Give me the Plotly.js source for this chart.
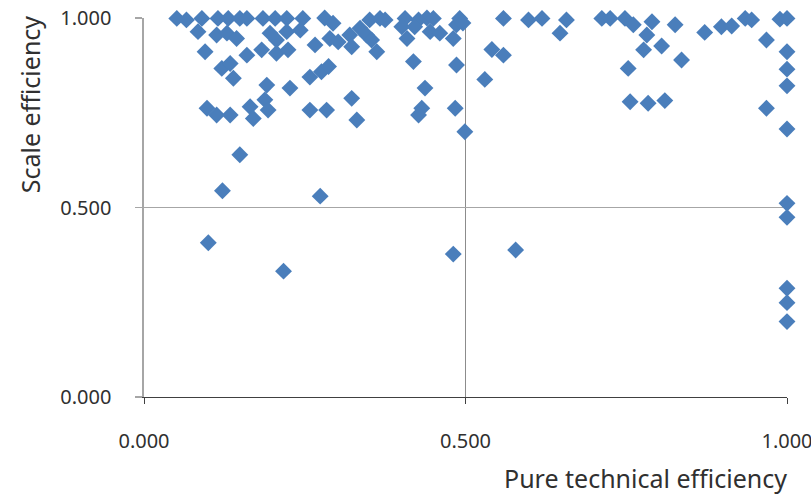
<!DOCTYPE html>
<html>
<head>
<meta charset="utf-8">
<script src="https://cdn.plot.ly/plotly-3.0.1.min.js"></script>
<style>html,body{margin:0;padding:0;background:#fff;}#chart{width:811px;height:496px;}</style>
</head>
<body>
<div id="chart"></div>
<script>
// Pure technical efficiency (x) and scale efficiency (y)
const pureTechnicalEfficiency = [
  0.051,0.066,0.090,0.115,0.131,0.149,0.160,0.185,0.204,0.222,0.247,
  0.084,0.113,0.129,0.144,0.196,0.206,0.222,0.243,
  0.095,0.160,0.183,0.206,0.224,
  0.121,0.134,0.139,0.191,0.227,0.258,
  0.098,0.113,0.134,0.165,0.170,0.188,0.193,0.258,
  0.266,0.281,0.294,0.289,0.302,0.320,0.323,0.336,0.351,0.346,0.354,0.367,0.375,0.362,
  0.406,0.401,0.409,0.427,0.440,0.450,0.421,0.445,0.460,0.481,0.491,0.486,
  0.419,0.486,0.276,0.287,0.437,0.323,0.284,0.331,0.432,0.427,0.484,0.499,0.496,
  0.559,0.598,0.619,0.657,0.647,0.712,0.725,0.748,0.761,
  0.541,0.559,0.530,0.753,0.756,
  0.790,0.826,0.782,0.805,0.777,0.836,0.872,0.898,0.914,0.935,0.945,0.989,1.000,
  0.968,1.000,1.000,1.000,0.784,0.810,0.968,1.000,
  1.000,1.000,1.000,1.000,1.000,
  0.149,0.122,0.274,0.100,0.217,0.481,0.578
];
const scaleEfficiency = [
  0.999,0.995,0.999,0.999,0.999,0.999,0.999,0.999,0.999,0.999,0.999,
  0.964,0.955,0.960,0.946,0.960,0.942,0.964,0.968,
  0.911,0.902,0.916,0.907,0.916,
  0.867,0.880,0.841,0.823,0.815,0.844,
  0.762,0.744,0.744,0.766,0.735,0.784,0.757,0.757,
  0.929,1.000,0.986,0.946,0.937,0.955,0.924,0.973,0.995,0.955,0.942,0.999,0.995,0.911,
  0.999,0.977,0.946,0.995,1.000,0.999,0.977,0.964,0.960,0.946,0.999,0.982,
  0.885,0.876,0.858,0.872,0.815,0.788,0.757,0.731,0.762,0.744,0.762,0.700,0.987,
  0.999,0.995,0.999,0.995,0.960,0.999,0.999,0.999,0.982,
  0.917,0.902,0.838,0.867,0.779,
  0.990,0.982,0.955,0.926,0.916,0.889,0.962,0.977,0.979,0.999,0.995,0.997,0.999,
  0.942,0.911,0.865,0.821,0.775,0.782,0.762,0.707,
  0.511,0.474,0.287,0.249,0.199,
  0.639,0.544,0.530,0.407,0.332,0.377,0.388
];
const tickValues = [0, 0.5, 1];
const tickLabels = ["0.000", "0.500", "1.000"];
const xTitle = "Pure technical efficiency";
const yTitle = "Scale efficiency";

const fontFamily = "'Noto Sans', 'Open Sans', sans-serif";

const trace = {
  type: 'scatter',
  mode: 'markers',
  x: pureTechnicalEfficiency,
  y: scaleEfficiency,
  cliponaxis: false,
  marker: { symbol: 'diamond', size: 13, color: '#4a7ebb', line: { width: 0 } },
  hoverinfo: 'x+y'
};

const layout = {
  width: 811,
  height: 496,
  margin: { l: 144, r: 24, t: 18, b: 99, pad: 0 },
  paper_bgcolor: '#ffffff',
  plot_bgcolor: '#ffffff',
  showlegend: false,
  font: { family: fontFamily, size: 20, color: '#303030' },
  xaxis: {
    range: [0, 1],
    tickvals: tickValues,
    ticktext: tickLabels,
    ticks: 'outside',
    ticklen: 6,
    tickwidth: 1,
    tickcolor: '#404040',
    ticklabelstandoff: 20,
    ticklabeloverflow: 'allow',
    showline: true,
    linecolor: '#404040',
    linewidth: 1.2,
    showgrid: true,
    gridcolor: '#8c8c8c',
    gridwidth: 1,
    zeroline: false,
    fixedrange: true,
    tickfont: { family: fontFamily, size: 20, color: '#303030' }
  },
  yaxis: {
    range: [0, 1],
    tickvals: tickValues,
    ticktext: tickLabels,
    ticks: 'outside',
    ticklen: 7,
    tickwidth: 1.2,
    tickcolor: '#a6a6a6',
    ticklabelstandoff: 20,
    ticklabeloverflow: 'allow',
    showline: true,
    linecolor: '#a6a6a6',
    linewidth: 1.6,
    showgrid: true,
    gridcolor: '#a6a6a6',
    gridwidth: 1.4,
    zeroline: false,
    fixedrange: true,
    tickfont: { family: fontFamily, size: 20, color: '#303030' }
  },
  annotations: [
    {
      text: xTitle, xref: 'paper', yref: 'paper', x: 1.003, y: -0.214,
      xanchor: 'right', yanchor: 'middle', showarrow: false,
      font: { family: fontFamily, size: 25, color: '#303030' }
    },
    {
      text: yTitle, xref: 'paper', yref: 'paper', x: -0.177, y: 0.773,
      xanchor: 'center', yanchor: 'middle', textangle: -90, showarrow: false,
      font: { family: fontFamily, size: 25, color: '#303030' }
    }
  ]
};

Plotly.newPlot('chart', [trace], layout, { staticPlot: true, displayModeBar: false });
</script>
</body>
</html>
